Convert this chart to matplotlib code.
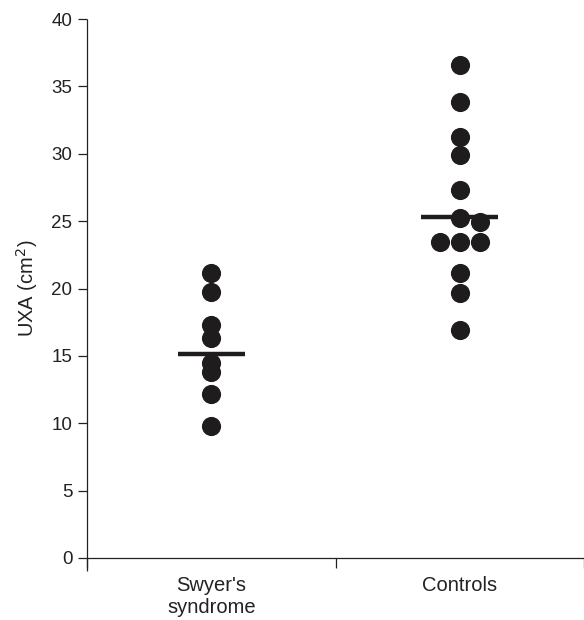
import numpy as np
import matplotlib
matplotlib.use('Agg')
import matplotlib.pyplot as plt

plt.rcParams['font.family'] = ['Liberation Sans', 'DejaVu Sans']

# Data
groups = ["Swyer's\nsyndrome", "Controls"]
swyer = [21.15, 19.75, 17.3, 16.3, 14.45, 13.8, 12.15, 9.8]
swyer_slot = [0, 0, 0, 0, 0, 0, 0, 0]
controls = [36.6, 33.85, 31.25, 29.9, 27.3, 25.25, 24.95, 23.45, 23.45, 23.45, 21.15, 19.65, 16.9]
controls_slot = [0, 0, 0, 0, 0, 0, 1, -1, 0, 1, 0, 0, 0]
group_lines = [15.15, 25.3]

ink = '#1f1c1d'
px_per_unit = (558 - 19) / 40
fig = plt.figure(figsize=(5.84, 6.2), dpi=100)
ax = fig.add_axes([87 / 584, (620 - 558 - px_per_unit) / 620,
                   1 - 87 / 584, (558 - 19 + px_per_unit) / 620])

step = 0.08
half_widths = [0.135, 0.155]
for i, (vals, slots) in enumerate([(swyer, swyer_slot), (controls, controls_slot)]):
    xs = i + step * np.array(slots)
    ax.plot(xs, vals, 'o', color=ink, markersize=13.8, markeredgewidth=0, zorder=3)
    ax.plot([i - half_widths[i], i + half_widths[i]], [group_lines[i]] * 2,
            color=ink, lw=3.2, solid_capstyle='butt', zorder=2)

ax.set_xlim(-0.5, 1.5)
ax.set_ylim(-1.0, 40)
ax.spines['top'].set_visible(False)
ax.spines['right'].set_visible(False)
ax.spines['bottom'].set_position(('data', 0))
for s in ['left', 'bottom']:
    ax.spines[s].set_linewidth(0.9)
    ax.spines[s].set_color('#222222')
    ax.spines[s].set_capstyle('butt')

ax.set_yticks(range(0, 41, 5))
ax.tick_params(axis='y', direction='out', length=6.5, width=0.9, pad=4, labelsize=13.5, colors='#222222')
ax.set_xticks([0, 1])
ax.set_xticklabels(groups, fontsize=14.5, linespacing=1.2)
ax.set_xticks([-0.5, 0.5, 1.5], minor=True)
ax.tick_params(axis='x', which='major', length=0, pad=13, colors='#222222')
ax.tick_params(axis='x', which='minor', direction='out', length=7, width=0.9, colors='#222222')

ax.set_ylabel('UXA (cm$^2$)', fontsize=14.5, color='#222222')
ax.yaxis.set_label_coords(-0.095, (558 - 288 + px_per_unit) / (558 - 19 + px_per_unit))

fig.savefig('out.png', dpi=100)
